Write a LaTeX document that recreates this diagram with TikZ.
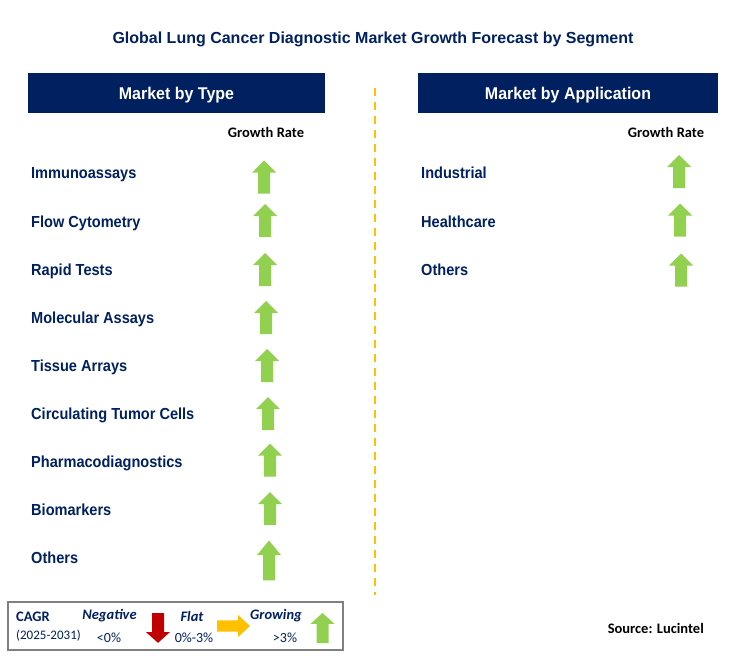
\documentclass[tikz,border=0pt]{standalone}
\usepackage{fontspec}
\setmainfont{Liberation Sans}
\newfontfamily\calibri{Carlito}
\newfontfamily\narrowfont[FakeStretch=0.91]{Liberation Sans}
\newfontfamily\headfont[FakeStretch=0.94]{Liberation Sans}
\usetikzlibrary{positioning}
\definecolor{navy}{RGB}{0,32,96}
\definecolor{arrowgreen}{RGB}{146,208,80}
\definecolor{arrowred}{RGB}{192,0,0}
\definecolor{arroworange}{RGB}{255,192,0}
\tikzset{every node/.style={inner sep=0pt}, label/.style={anchor=base west, text=navy, font=\narrowfont\fontsize{16}{18}\selectfont\bfseries},
  header/.style={fill=navy, text=white, minimum width=297pt, minimum height=40pt, text height=12.3pt, text depth=0pt, font=\headfont\fontsize{17}{19}\selectfont\bfseries},
  rate/.style={font=\calibri\fontsize{14.5}{16}\selectfont\bfseries},
  legend/.style={text=navy, font=\calibri\fontsize{14}{16}\selectfont},
  legendhead/.style={text=navy, font=\calibri\fontsize{14.5}{16}\selectfont\bfseries\itshape},
  blockarrow/.pic={\path[pic actions] (-6,16.5) -- (-6,-4.5) -- (-12,-4.5) -- (0,-16.5) -- (12,-4.5) -- (6,-4.5) -- (6,16.5) -- cycle;}}

\begin{document}
\begin{tikzpicture}[x=1pt,y=-1pt]
  \useasboundingbox[fill=white] (0,0) rectangle (731,669);
  \node[anchor=base, text=navy, font=\fontsize{16}{18}\selectfont\bfseries] (title) at (373,43.3) {Global Lung Cancer Diagnostic Market Growth Forecast by Segment};
  % two columns
  \node[header] (typehead) at (176.5,93) {Market by Type};
  \node[header, minimum width=300pt] (apphead) at (568,93) {Market by Application};
  \coordinate (divtop) at (375,88);
  \coordinate (divbot) at (375,595);
  \draw[arroworange, line width=1.5pt, dash pattern=on 8pt off 6pt] (divtop) -- (divbot);
  \node[rate] (typerate) at (266,132) {Growth Rate};
  \node[rate] (apprate) at (666,132) {Growth Rate};
  % market by type
  \node[label] (t1) at (31,178.3) {Immunoassays};
  \node[label] (t2) at (31,227.3) {Flow Cytometry};
  \node[label] (t3) at (31,275.3) {Rapid Tests};
  \node[label] (t4) at (31,323.3) {Molecular Assays};
  \node[label] (t5) at (31,371.3) {Tissue Arrays};
  \node[label] (t6) at (31,419.3) {Circulating Tumor Cells};
  \node[label] (t7) at (31,467.3) {Pharmacodiagnostics};
  \node[label] (t8) at (31,515.3) {Biomarkers};
  \node[label] (t9) at (31,563.3) {Others};
  \pic[fill=arrowgreen] at (264,177) {blockarrow};
  \pic[fill=arrowgreen] at (265,220.5) {blockarrow};
  \pic[fill=arrowgreen] at (265,269.5) {blockarrow};
  \pic[fill=arrowgreen] at (266,317.5) {blockarrow};
  \pic[fill=arrowgreen] at (267,365.5) {blockarrow};
  \pic[fill=arrowgreen] at (268,413.5) {blockarrow};
  \pic[fill=arrowgreen] at (270,460) {blockarrow};
  \pic[fill=arrowgreen] at (270,508.5) {blockarrow};
  \pic[fill=arrowgreen, yscale=1.21] at (269,560.5) {blockarrow};
  % market by application
  \node[label] (a1) at (421,178.3) {Industrial};
  \node[label] (a2) at (421,227.3) {Healthcare};
  \node[label] (a3) at (421,275.3) {Others};
  \pic[fill=arrowgreen] at (679,171.5) {blockarrow};
  \pic[fill=arrowgreen] at (680,220) {blockarrow};
  \pic[fill=arrowgreen] at (681,270) {blockarrow};
  % legend
  \draw[gray, line width=1.2pt] (8,602) rectangle (343,650);
  \node[legendhead, anchor=west, font=\calibri\fontsize{14.5}{16}\selectfont\bfseries] (cagr) at (16,617) {CAGR};
  \node[legend, anchor=west, font=\calibri\fontsize{13}{15}\selectfont] (years) at (16,636) {(2025-2031)};
  \node[legendhead] (neg) at (109.5,616) {Negative};
  \node[legend] (negval) at (109,638) {<0\%};
  \node[legendhead] (flat) at (192,616) {Flat};
  \node[legend] (flatval) at (194,638) {0\%-3\%};
  \node[legendhead] (grow) at (276,616) {Growing};
  \node[legend] (growval) at (285,638) {>3\%};
  \pic[fill=arrowred, rotate=180, yscale=0.9] at (158,628) {blockarrow};
  \pic[fill=arroworange, rotate=-90, xscale=0.92] at (233.5,626) {blockarrow};
  \pic[fill=arrowgreen, yscale=0.91] at (322.5,628) {blockarrow};
  \node[rate, anchor=east] (source) at (704,628) {Source: Lucintel};
\end{tikzpicture}
\end{document}
